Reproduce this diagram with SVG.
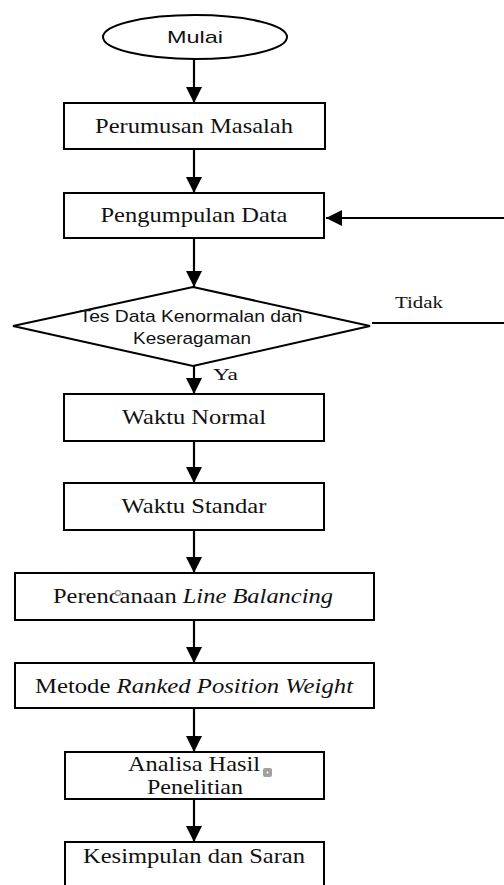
<svg xmlns="http://www.w3.org/2000/svg" width="504" height="885" viewBox="0 0 504 885">
<style>
.box{fill:#fff;stroke:#000;stroke-width:2}
.ser{font-family:"Liberation Serif","Times New Roman",serif;font-size:21px;fill:#111}
.it{font-family:"Liberation Serif","Times New Roman",serif;font-style:italic}
.san{font-family:"Liberation Sans",Arial,sans-serif;font-size:17px;fill:#111}
.lbl{font-family:"Liberation Serif","Times New Roman",serif;font-size:17px;fill:#111}
.con{fill:none;stroke:#000;stroke-width:2.2}
</style>
<defs>
<marker id="ah" markerWidth="16" markerHeight="16" refX="16" refY="8" orient="auto" markerUnits="userSpaceOnUse" viewBox="0 0 16 16">
<path d="M0,0 L16,8 L0,16 Z" fill="#000"/>
</marker>
</defs>
<rect width="504" height="885" fill="#fff"/>
<g id="connectors">
<line class="con" x1="194" y1="59" x2="194" y2="103" marker-end="url(#ah)"/>
<line class="con" x1="194" y1="149" x2="194" y2="193" marker-end="url(#ah)"/>
<line class="con" x1="194" y1="238" x2="194" y2="287" marker-end="url(#ah)"/>
<line class="con" x1="194" y1="366" x2="194" y2="394" marker-end="url(#ah)"/>
<line class="con" x1="194" y1="441" x2="194" y2="483" marker-end="url(#ah)"/>
<line class="con" x1="194" y1="530" x2="194" y2="573" marker-end="url(#ah)"/>
<line class="con" x1="194" y1="620" x2="194" y2="663" marker-end="url(#ah)"/>
<line class="con" x1="194" y1="708" x2="194" y2="752" marker-end="url(#ah)"/>
<line class="con" x1="194" y1="799" x2="194" y2="842" marker-end="url(#ah)"/>
<line class="con" x1="372" y1="323" x2="506" y2="323"/>
<line class="con" x1="506" y1="218" x2="326" y2="218" marker-end="url(#ah)"/>
<text class="lbl" x="395" y="308" textLength="48" lengthAdjust="spacingAndGlyphs">Tidak</text>
<text class="lbl" x="213" y="380" textLength="25" lengthAdjust="spacingAndGlyphs">Ya</text>
</g>
<g id="mulai">
<ellipse class="box" cx="195" cy="37" rx="92" ry="22"/>
<text class="san" x="195" y="43" text-anchor="middle" textLength="56" lengthAdjust="spacingAndGlyphs">Mulai</text>
</g>
<g id="perumusan">
<rect class="box" x="64" y="103" width="261" height="46"/>
<text class="ser" x="194" y="133" text-anchor="middle" textLength="198" lengthAdjust="spacingAndGlyphs">Perumusan Masalah</text>
</g>
<g id="pengumpulan">
<rect class="box" x="64" y="193" width="260" height="45"/>
<text class="ser" x="194" y="222" text-anchor="middle" textLength="187" lengthAdjust="spacingAndGlyphs">Pengumpulan Data</text>
</g>
<g id="tes">
<polygon class="box" points="193,287 370,326 193,366 13,326"/>
<text class="san" x="191" y="322" text-anchor="middle" textLength="223" lengthAdjust="spacingAndGlyphs">Tes Data Kenormalan dan</text>
<text class="san" x="192" y="344" text-anchor="middle" textLength="118" lengthAdjust="spacingAndGlyphs">Keseragaman</text>
</g>
<g id="normal">
<rect class="box" x="64" y="394" width="260" height="47"/>
<text class="ser" x="194" y="424" text-anchor="middle" textLength="144" lengthAdjust="spacingAndGlyphs">Waktu Normal</text>
</g>
<g id="standar">
<rect class="box" x="64" y="483" width="260" height="47"/>
<text class="ser" x="194" y="513" text-anchor="middle" textLength="145" lengthAdjust="spacingAndGlyphs">Waktu Standar</text>
</g>
<g id="perencanaan">
<rect class="box" x="15" y="573" width="359" height="47"/>
<text class="ser" x="193" y="603" text-anchor="middle" textLength="280" lengthAdjust="spacingAndGlyphs">Perencanaan <tspan class="it">Line Balancing</tspan></text>
<circle cx="118" cy="593" r="2.5" fill="#fff" stroke="#999" stroke-width="1.5"/>
</g>
<g id="metode">
<rect class="box" x="15" y="663" width="359" height="45"/>
<text class="ser" x="194" y="693" text-anchor="middle" textLength="318" lengthAdjust="spacingAndGlyphs">Metode <tspan class="it">Ranked Position Weight</tspan></text>
</g>
<g id="analisa">
<rect class="box" x="65" y="752" width="259" height="47"/>
<text class="ser" x="194" y="771" text-anchor="middle" textLength="132" lengthAdjust="spacingAndGlyphs">Analisa Hasil</text>
<text class="ser" x="195" y="794" text-anchor="middle" textLength="96" lengthAdjust="spacingAndGlyphs">Penelitian</text>
<rect x="263" y="768" width="9" height="9" rx="2" fill="#a0a0a0"/>
<circle cx="267.5" cy="772.5" r="1" fill="#fff"/>
</g>
<g id="kesimpulan">
<rect class="box" x="65" y="842" width="259" height="50"/>
<text class="ser" x="194" y="863" text-anchor="middle" textLength="222" lengthAdjust="spacingAndGlyphs">Kesimpulan dan Saran</text>
</g>
</svg>
